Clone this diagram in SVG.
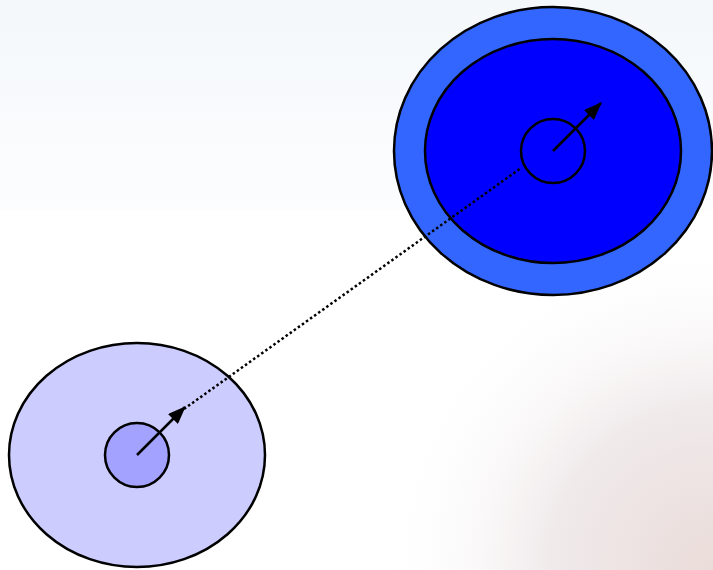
<svg xmlns="http://www.w3.org/2000/svg" width="713" height="570" viewBox="0 0 713 570">
  <defs>
    <linearGradient id="skyTint" x1="0" y1="0" x2="0" y2="1">
      <stop offset="0" stop-color="#f4f8fb"/>
      <stop offset="1" stop-color="#fcfdfe"/>
    </linearGradient>
    <radialGradient id="warmCorner" cx="713" cy="570" r="330" gradientUnits="userSpaceOnUse">
      <stop offset="0" stop-color="#eadcd9"/>
      <stop offset="0.5" stop-color="#f0eaeb"/>
      <stop offset="1" stop-color="#ffffff" stop-opacity="0"/>
    </radialGradient>
    <marker id="head" markerWidth="18" markerHeight="14" refX="17" refY="7" orient="auto" markerUnits="userSpaceOnUse">
      <path d="M0,0 L18,7 L0,14 Z" fill="#000"/>
    </marker>
    <style>
      .ring { stroke: #000; stroke-width: 2.5; }
      .vec { stroke: #000; stroke-width: 2.5; fill: none; marker-end: url(#head); }
      .link { stroke: #000; stroke-width: 2.5; stroke-dasharray: 2.5 2.5; fill: none; }
    </style>
  </defs>

  <!-- backdrop -->
  <rect width="713" height="570" fill="#ffffff"/>
  <rect width="713" height="210" fill="url(#skyTint)"/>
  <rect width="713" height="570" fill="url(#warmCorner)"/>

  <g id="large-body">
    <ellipse class="ring" cx="553" cy="151" rx="159" ry="144" fill="#3366ff"/>
    <ellipse class="ring" cx="553" cy="151" rx="128" ry="112" fill="#0000ff"/>
    <ellipse class="ring" cx="553" cy="151" rx="32" ry="32" fill="#0000ff"/>
    <line class="vec" x1="553" y1="151" x2="601" y2="103"/>
  </g>

  <g id="small-body">
    <ellipse class="ring" cx="137" cy="455" rx="128" ry="112" fill="#ccccff"/>
    <ellipse class="ring" cx="137" cy="455" rx="32" ry="32" fill="#a3a3ff"/>
    <line class="vec" x1="137" y1="455" x2="185" y2="407"/>
  </g>

  <!-- dotted link between the two bodies, drawn over both -->
  <g id="connectors">
    <line class="link" x1="184" y1="409" x2="521" y2="168"/>
  </g>
</svg>
